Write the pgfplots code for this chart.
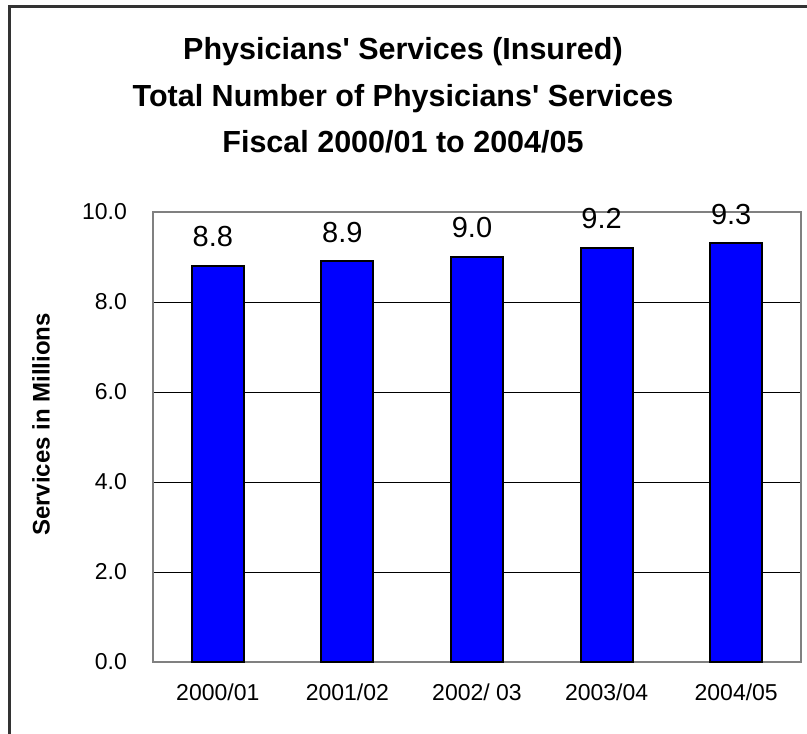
\documentclass[border=0pt]{standalone}
\usepackage{pgfplots}
\pgfplotsset{compat=1.18}
\usepackage{fontspec}
\setmainfont{Liberation Sans}[Ligatures=TeXOff]
\definecolor{barblue}{RGB}{0,0,255}
\definecolor{framegray}{RGB}{128,128,128}
\definecolor{outer}{RGB}{51,51,51}
\begin{document}
\begin{tikzpicture}
\useasboundingbox (0,0) rectangle (807bp,734bp);
\fill[white] (0,0) rectangle (807bp,734bp);
\draw[outer, line width=2.2bp] (9.5bp,0) -- (9.5bp,727.5bp) -- (807bp,727.5bp);
% title
\node[anchor=base, inner sep=0] at (403bp,674bp) {\fontsize{30.5bp}{36bp}\selectfont\bfseries Physicians' Services (Insured)};
\node[anchor=base, inner sep=0] at (403bp,627.5bp) {\fontsize{30.5bp}{36bp}\selectfont\bfseries Total Number of Physicians' Services};
\node[anchor=base, inner sep=0] at (403bp,581bp) {\fontsize{30.5bp}{36bp}\selectfont\bfseries Fiscal 2000/01 to 2004/05};
% y label
\node[rotate=90, inner sep=0] at (41bp,309.5bp) {\fontsize{24bp}{28bp}\selectfont\bfseries Services in Millions};
\begin{axis}[
  at={(153bp,72bp)}, anchor=south west,
  scale only axis, width=648bp, height=450bp,
  ybar, bar width=52bp,
  xmin=-0.5, xmax=4.5, ymin=0, ymax=10,
  xtick=data,
  xticklabels={2000/01,2001/02,2002/ 03,2003/04,2004/05},
  ytick={0,2,4,6,8,10},
  major tick length=0pt,
  ymajorgrids, major grid style={black, line width=0.9bp},
  axis line style={framegray, line width=2bp},
  clip=false,
  /pgf/number format/assume math mode=true,
  yticklabel={\pgfmathprintnumber[fixed,precision=1,zerofill]{\tick}},
  yticklabel style={font=\fontsize{23bp}{26bp}\selectfont, anchor=east, inner sep=0pt, xshift=-26bp},
  xticklabel style={font=\fontsize{23bp}{26bp}\selectfont, anchor=north, inner sep=0pt, yshift=-22bp},
  nodes near coords={\pgfmathprintnumber[fixed,precision=1,zerofill]{\pgfplotspointmeta}},
  point meta=y,
  every node near coord/.append style={font=\fontsize{29bp}{32bp}\selectfont, anchor=base, inner sep=0pt, yshift=19bp, xshift=-5bp, text=black},
]
\addplot[fill=barblue, draw=black, line width=2bp] coordinates {(0,8.8) (1,8.9) (2,9.0) (3,9.2) (4,9.3)};
\end{axis}
\end{tikzpicture}
\end{document}
